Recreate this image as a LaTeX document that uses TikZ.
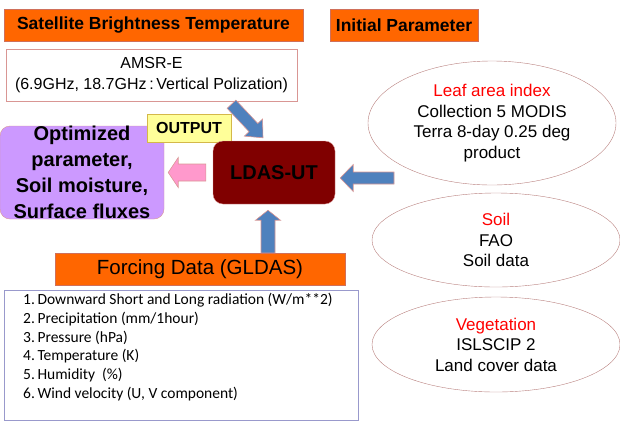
\documentclass[tikz,border=0pt]{standalone}
\usepackage{fontspec}
\setmainfont{Liberation Sans}
\newfontfamily\listfont{Carlito}
\usetikzlibrary{positioning,calc,shapes.geometric}
\definecolor{Orange}{HTML}{FF6600}
\definecolor{OrangeLine}{HTML}{D0705A}
\definecolor{Rose}{HTML}{D99694}
\definecolor{Lilac}{HTML}{CC99FF}
\definecolor{Maroon}{HTML}{800000}
\definecolor{Lemon}{HTML}{FFFF99}
\definecolor{Gold}{HTML}{D4B84A}
\definecolor{Steel}{HTML}{4F81BD}
\definecolor{Pink}{HTML}{FF99CC}
\definecolor{Slate}{HTML}{9999CC}
\definecolor{Title}{HTML}{FF0000}
\tikzset{
 header/.style={draw=OrangeLine,fill=Orange,font=\fontsize{17.5}{20}\selectfont\bfseries,minimum height=32pt,inner sep=0pt},
 forcing/.style={header,font=\fontsize{20.5}{24}\selectfont},
 source/.style={draw=Rose,fill=white,align=center,font=\fontsize{16}{21}\selectfont,minimum width=291pt,minimum height=52pt,inner sep=0pt},
 param/.style={ellipse,draw=Rose!85!black,align=center,font=\fontsize{17}{20.5}\selectfont,minimum width=248pt,inner sep=0pt},
 model/.style={draw=Rose,fill=Maroon,rounded corners=10pt,font=\fontsize{20}{24}\selectfont\bfseries,minimum width=122pt,minimum height=63pt},
 result/.style={draw=Rose,fill=Lilac,rounded corners=10pt,align=center,font=\fontsize{20}{26}\selectfont\bfseries,minimum width=164pt,minimum height=93pt,inner sep=0pt},
 tag/.style={draw=Gold,fill=Lemon,font=\fontsize{16}{19}\selectfont\bfseries,minimum width=84pt,minimum height=28pt,inner sep=0pt},
 listbox/.style={draw=Slate,minimum width=354pt,minimum height=130pt},
 listitem/.style={anchor=west,font=\listfont\fontsize{15.5}{18}\selectfont,inner sep=0pt},
 blockin/.style={draw=Rose,fill=Steel,line width=.6pt},
 blockout/.style={draw=Rose,fill=Pink,line width=.6pt}
}
% block arrow: style, from, to, half shaft, half head, head length
\newcommand{\blockarrow}[6]{%
 \path ($(#3)!#6!(#2)$) coordinate (hb);
 \draw[#1] ($(#2)!#4!-90:(#3)$) -- ($(hb)!#4!90:(#2)$) -- ($(hb)!#5!90:(#2)$) -- (#3)
  -- ($(hb)!#5!-90:(#2)$) -- ($(hb)!#4!-90:(#2)$) -- ($(#2)!#4!90:(#3)$) -- cycle;}

\begin{document}
\begin{tikzpicture}[x=1pt,y=-1pt]
\useasboundingbox (0,0) rectangle (620,424);
\node[header,minimum width=299pt] (sbt) at (153.5,25) {Satellite Brightness Temperature};
\node[header,minimum width=148pt] (init) at (404,25) {Initial Parameter};
\node[source] (amsr) at (151.5,75) {AMSR-E\\(6.9GHz, 18.7GHz\,:\,Vertical Polization)};
\node[result] (out) at (82,172.5) {Optimized\\parameter,\\Soil moisture,\\Surface fluxes};
\node[tag] (outtag) at (189,128) {OUTPUT};
\node[model] (ldas) at (274,172.5) {LDAS-UT};
\node[param,minimum height=124pt] (lai) at (492,123) {\textcolor{Title}{Leaf area index}\\Collection 5 MODIS\\Terra 8-day 0.25 deg\\product};
\node[param,minimum height=94pt] (soil) at (496,240) {\textcolor{Title}{Soil}\\FAO\\Soil data};
\node[param,minimum height=95pt] (veg) at (496,344.5) {\textcolor{Title}{Vegetation}\\ISLSCIP 2\\Land cover data};
\node[forcing,minimum width=290pt] (gldas) at (200,269) {Forcing Data (GLDAS)};
\node[listbox] (list) at (181,355) {};
\foreach \i/\txt in {1/{Downward Short and Long radiation (W/m**2)},2/{Precipitation (mm/1hour)},3/{Pressure (hPa)},4/{Temperature (K)},5/{Humidity\ \ (\%)},6/{Wind velocity (U, V component)}}
 \node[listitem] (item\i) at (23,{300+18.8*(\i-1)}) {\i.\,\txt};
\coordinate (amsrout) at ($(amsr.south)+(80,3)$);
\coordinate (laiout) at (394,178);
\blockarrow{blockin}{amsrout}{$(ldas.north)+(-11,-3)$}{6pt}{12.5pt}{14pt}
\blockarrow{blockin}{laiout}{$(ldas.east)+(5,5.5)$}{6pt}{13.5pt}{13pt}
\blockarrow{blockin}{$(gldas.north)+(68,0)$}{$(ldas.south)+(-6,6)$}{7pt}{12.5pt}{10pt}
\blockarrow{blockout}{$(ldas.west)+(-7,0)$}{$(out.east)+(4,0)$}{8.5pt}{15pt}{10pt}
\end{tikzpicture}
\end{document}
